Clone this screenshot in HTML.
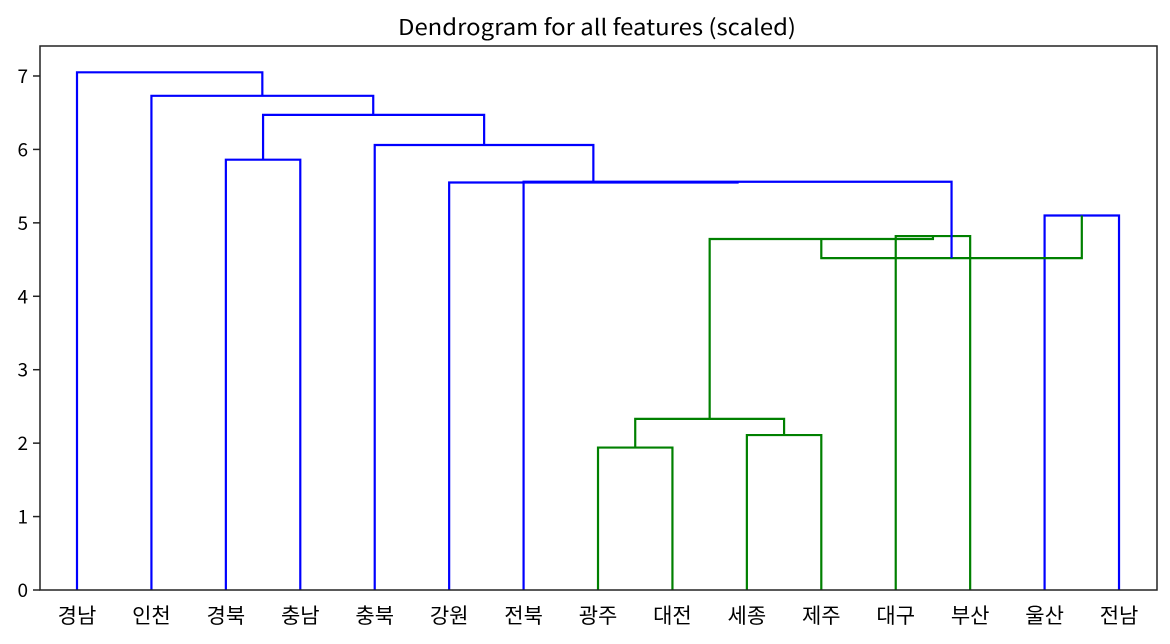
<!DOCTYPE html>
<html><head><meta charset="utf-8">
<style>
html,body{margin:0;padding:0;background:#fff;}
svg{display:block;font-family:"Noto Sans CJK KR","Liberation Sans",sans-serif;}
</style></head>
<body>
<svg id="chart" width="1170" height="644">
<text x="597" y="35" font-size="22" text-anchor="middle" textLength="398" lengthAdjust="spacingAndGlyphs" fill="#000">Dendrogram for all features (scaled)</text>
<g id="links"></g>
<rect x="40" y="46" width="1117" height="544" fill="none" stroke="#222" stroke-width="1.5"/>
<g id="yaxis"></g>
<g id="xaxis"></g>
</svg>
<script>
const leaves = ["경남","인천","경북","충남","충북","강원","전북","광주","대전","세종","제주","대구","부산","울산","전남"];
const yTicks = [0,1,2,3,4,5,6,7];
// link x positions in leaf-index units
const linkX = [
  [7,7,8,8],[9,9,10,10],[7.5,7.5,9.5,9.5],[11,11,12,12],
  [8.5,8.5,11.5,11.5],[13,13,14,14],[10,10,13.5,13.5],
  [6,6,11.75,11.75],[5,5,8.875,8.875],[4,4,6.9375,6.9375],
  [2,2,3,3],[2.5,2.5,5.47,5.47],[1,1,3.98,3.98],[0,0,2.49,2.49]
];
const linkH = [
  [0,1.94,1.94,0],[0,2.11,2.11,0],[1.94,2.33,2.33,2.11],[0,4.82,4.82,0],
  [2.33,4.78,4.78,4.82],[0,5.1,5.1,0],[4.78,4.52,4.52,5.1],
  [0,5.56,5.56,4.52],[0,5.55,5.55,5.56],[0,6.06,6.06,5.55],
  [0,5.86,5.86,0],[5.86,6.47,6.47,6.06],[0,6.73,6.73,6.47],[0,7.05,7.05,6.73]
];
const linkColor = ["g","g","g","g","g","b","g","b","b","b","b","b","b","b"];
const NS="http://www.w3.org/2000/svg";
const xs = i => 77 + 74.43*i;
const ys = v => 590 - 73.43*v;
const links = document.getElementById('links');
linkX.forEach((lx,k)=>{
  const p = document.createElementNS(NS,'polyline');
  p.setAttribute('points', lx.map((x,j)=>xs(x)+','+ys(linkH[k][j])).join(' '));
  p.setAttribute('fill','none');
  p.setAttribute('stroke', linkColor[k]==='g' ? '#008000' : '#0000ff');
  p.setAttribute('stroke-width','2.2');
  
  
  links.appendChild(p);
});
const ya = document.getElementById('yaxis');
yTicks.forEach(t=>{
  const l = document.createElementNS(NS,'line');
  l.setAttribute('x1',33);l.setAttribute('x2',40);
  l.setAttribute('y1',ys(t));l.setAttribute('y2',ys(t));
  l.setAttribute('stroke','#222');l.setAttribute('stroke-width','1.5');
  
  
  ya.appendChild(l);
  const tx = document.createElementNS(NS,'text');
  tx.setAttribute('x',28);tx.setAttribute('y',ys(t)+7);
  tx.setAttribute('font-size','19');tx.setAttribute('text-anchor','end');
  tx.textContent = t;
  
  
  ya.appendChild(tx);
});
const xa = document.getElementById('xaxis');
leaves.forEach((n,i)=>{
  const tx = document.createElementNS(NS,'text');
  tx.setAttribute('x',xs(i));tx.setAttribute('y',623);
  tx.setAttribute('font-size','21');tx.setAttribute('text-anchor','middle');
  tx.textContent = n;
  
  
  xa.appendChild(tx);
});
</script>
</body></html>
